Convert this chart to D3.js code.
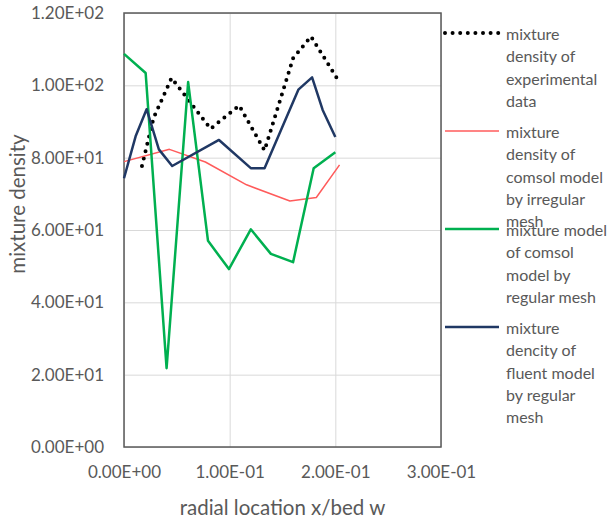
<!DOCTYPE html>
<html>
<head>
<meta charset="utf-8">
<script src="https://d3js.org/d3.v7.min.js"></script>
<style>
    body { margin: 0; background: #fff; }
    text { font-family: Lato, "Liberation Sans", sans-serif; fill: #595959; }
</style>
</head>
<body>
<div id="svg"></div>
<script>
// Chart values
var expX = [0.017, 0.028, 0.045, 0.082, 0.109, 0.133, 0.160, 0.177, 0.204];
var expY = [77.7, 91.0, 102.0, 88.0, 94.4, 82.0, 107.5, 113.5, 100.8];

var irregX = [0, 0.043, 0.077, 0.116, 0.157, 0.182, 0.204];
var irregY = [78.9, 82.3, 78.8, 72.5, 68.0, 69.0, 78.0];

var regX = [0, 0.0205, 0.0403, 0.0607, 0.0795, 0.0993, 0.120, 0.139, 0.160, 0.1795, 0.200];
var regY = [108.7, 103.4, 21.8, 100.9, 57.0, 49.2, 60.2, 53.4, 51.1, 77.1, 81.5];

var fluentX = [0, 0.011, 0.0214, 0.033, 0.0456, 0.0899, 0.120, 0.133, 0.165, 0.178, 0.188, 0.200];
var fluentY = [74.3, 85.9, 93.4, 82.3, 77.7, 84.9, 77.1, 77.1, 98.8, 102.2, 93.2, 85.7];

var xTicks = [0, 0.1, 0.2, 0.3];
var xTickLabels = ["0.00E+00", "1.00E-01", "2.00E-01", "3.00E-01"];
var yTicks = [0, 20, 40, 60, 80, 100, 120];
var yTickLabels = ["0.00E+00", "2.00E+01", "4.00E+01", "6.00E+01", "8.00E+01", "1.00E+02", "1.20E+02"];

// Legend text, already broken into lines like the picture
var legendLines = [
    ["mixture", "density of", "experimental", "data"],
    ["mixture", "density of", "comsol model", "by irregular", "mesh"],
    ["mixture model", "of comsol", "model by", "regular mesh"],
    ["mixture", "dencity of", "fluent model", "by regular", "mesh"]
];

// Series styles
var series = [
    { x: expX, y: expY, color: "#000000", width: 4, dash: "0 7.6", cap: "round" },
    { x: irregX, y: irregY, color: "#ff5b5b", width: 1.5, dash: null, cap: "butt" },
    { x: regX, y: regY, color: "#00b050", width: 2.5, dash: null, cap: "butt" },
    { x: fluentX, y: fluentY, color: "#203864", width: 2.5, dash: null, cap: "butt" }
];

var svgWidth = 610;
var svgHeight = 522;
var margins = { top: 13, bottom: 75, left: 124, right: 169 };
var width = svgWidth - margins.left - margins.right;
var height = svgHeight - margins.top - margins.bottom;

var svg = d3.select("#svg")
    .append("svg")
    .attr("width", svgWidth)
    .attr("height", svgHeight);

var g = svg.append("g")
    .attr("transform", "translate(" + margins.left + "," + margins.top + ")");

var xScale = d3.scaleLinear().domain([0, 0.3]).range([0, width]);
var yScale = d3.scaleLinear().domain([0, 120]).range([height, 0]);

// Gridlines
g.append("g")
    .call(d3.axisLeft(yScale).tickValues(yTicks).tickSize(-width).tickFormat(""))
    .call(a => a.select(".domain").remove())
    .selectAll("line").attr("stroke", "#d9d9d9");
g.append("g")
    .attr("transform", "translate(0," + height + ")")
    .call(d3.axisBottom(xScale).tickValues(xTicks).tickSize(-height).tickFormat(""))
    .call(a => a.select(".domain").remove())
    .selectAll("line").attr("stroke", "#d9d9d9");

// Plot area border
g.append("rect")
    .attr("width", width)
    .attr("height", height)
    .attr("fill", "none")
    .attr("stroke", "#595959")
    .attr("stroke-width", 1.5);

// Tick labels
var yAxis = g.append("g")
    .call(d3.axisLeft(yScale).tickValues(yTicks).tickSize(0).tickPadding(20)
        .tickFormat((d, i) => yTickLabels[i]));
yAxis.select(".domain").remove();
yAxis.selectAll("text").attr("font-size", 17).attr("fill", "#595959")
    .style("font-family", "Lato, 'Liberation Sans', sans-serif");

var xAxis = g.append("g")
    .attr("transform", "translate(0," + height + ")")
    .call(d3.axisBottom(xScale).tickValues(xTicks).tickSize(0).tickPadding(19)
        .tickFormat((d, i) => xTickLabels[i]));
xAxis.select(".domain").remove();
xAxis.selectAll("text").attr("font-size", 17).attr("fill", "#595959")
    .style("font-family", "Lato, 'Liberation Sans', sans-serif");

// Axis titles
svg.append("text")
    .attr("x", margins.left + width / 2)
    .attr("y", 515)
    .attr("text-anchor", "middle")
    .attr("font-size", 20.5)
    .text("radial location x/bed w");

svg.append("text")
    .attr("transform", "rotate(-90)")
    .attr("x", -204)
    .attr("y", 25)
    .attr("text-anchor", "middle")
    .attr("font-size", 20.5)
    .text("mixture density");

// Lines
var line = d3.line()
    .x(d => xScale(d[0]))
    .y(d => yScale(d[1]));

series.forEach(function (s) {
    var pts = s.x.map((v, i) => [v, s.y[i]]);
    g.append("path")
        .attr("d", line(pts))
        .attr("fill", "none")
        .attr("stroke", s.color)
        .attr("stroke-width", s.width)
        .attr("stroke-dasharray", s.dash)
        .attr("stroke-linecap", s.cap)
        .attr("stroke-linejoin", "round");
});

// Legend
var legend = svg.append("g").attr("transform", "translate(443,33)");
legendLines.forEach(function (lines, i) {
    var s = series[i];
    var ly = i * 98;
    legend.append("line")
        .attr("x1", 2).attr("x2", 56)
        .attr("y1", ly).attr("y2", ly)
        .attr("stroke", s.color)
        .attr("stroke-width", s.width)
        .attr("stroke-dasharray", s.dash)
        .attr("stroke-linecap", s.cap);
    var t = legend.append("text")
        .attr("x", 63)
        .attr("y", ly)
        .attr("font-size", 16)
        .attr("dominant-baseline", "central");
    lines.forEach(function (str, k) {
        t.append("tspan")
            .attr("x", 63)
            .attr("y", ly + k * 22.3)
            .text(str);
    });
});
</script>
</body>
</html>
